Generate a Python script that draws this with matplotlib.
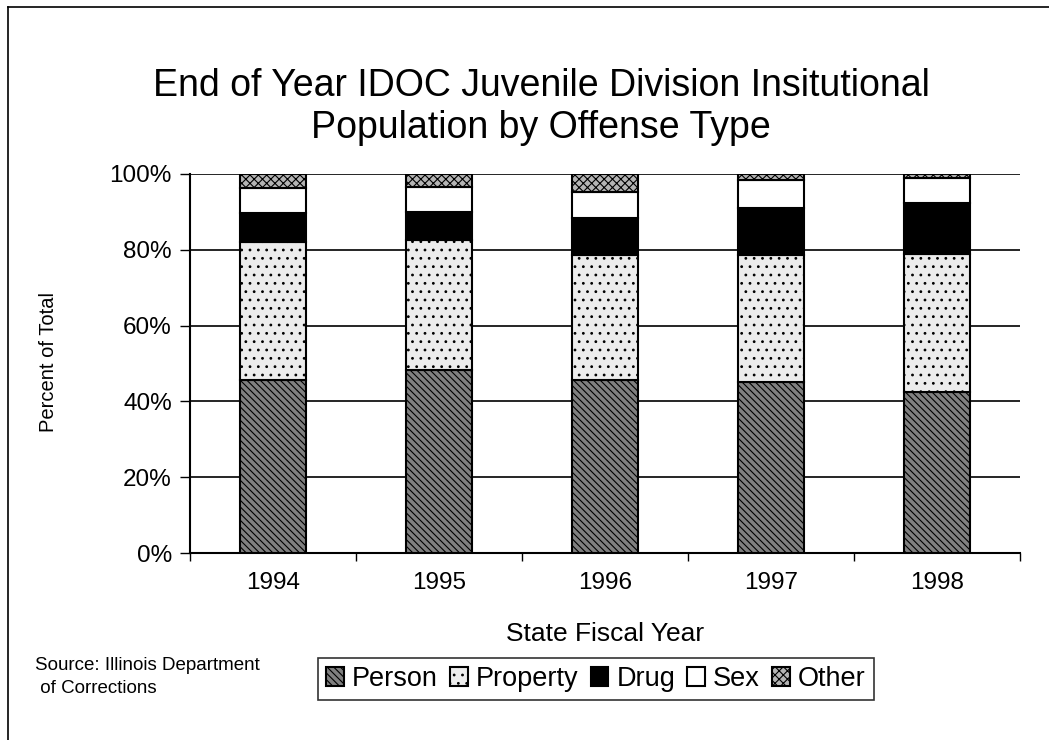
import numpy as np
import matplotlib
matplotlib.use('Agg')
import matplotlib.pyplot as plt
from matplotlib.lines import Line2D

plt.rcParams['font.family'] = ['Liberation Sans', 'DejaVu Sans']
plt.rcParams['hatch.linewidth'] = 0.8

years = ['1994', '1995', '1996', '1997', '1998']
offense_types = ['Person', 'Property', 'Drug', 'Sex', 'Other']

# percent of end-of-year population
person = [45.6, 48.3, 45.6, 45.0, 42.4]
property_ = [36.4, 34.2, 32.9, 33.5, 36.6]
drug = [7.7, 7.4, 9.8, 12.5, 13.3]
sex = [6.6, 6.7, 6.9, 7.4, 6.7]
other = [3.7, 3.4, 4.8, 1.6, 1.0]

series = [person, property_, drug, sex, other]
faces = ['#808080', '#ececec', '#000000', '#ffffff', '#b4b4b4']
hatches = ['\\\\\\\\\\', '..', None, None, 'xxxx']

W, H = 1049, 740
fig = plt.figure(figsize=(W / 100, H / 100), dpi=100)
ax = fig.add_axes([190 / W, (H - 553) / H, 830 / W, (553 - 174) / H])

x = np.arange(len(years))
bottom = np.zeros(len(years))
for name, vals, fc, h in zip(offense_types, series, faces, hatches):
    ax.bar(x, vals, width=0.4, bottom=bottom, color=fc, edgecolor='black',
           linewidth=1.5, hatch=h, label=name, zorder=3)
    bottom += np.array(vals)

ax.set_xlim(-0.5, len(years) - 0.5)
ax.set_ylim(0, 100)
ax.set_yticks(np.arange(0, 101, 20))
ax.set_yticklabels([f'{v}%' for v in range(0, 101, 20)])
ax.yaxis.grid(True, color='black', linewidth=1.2, zorder=0)
ax.set_xticks(x)
ax.set_xticklabels(years)
ax.set_xticks(np.arange(-0.5, len(years), 1), minor=True)
ax.tick_params(axis='x', which='major', length=0, pad=14, labelsize=17.5)
ax.tick_params(axis='x', which='minor', length=6, width=1, direction='out')
ax.tick_params(axis='y', length=7, width=1, direction='out', pad=6, labelsize=17.5)
for s in ['top', 'right']:
    ax.spines[s].set_visible(False)
for s in ['left', 'bottom']:
    ax.spines[s].set_linewidth(1.5)

ax.set_xlabel('State Fiscal Year', fontsize=19, labelpad=20)
fig.text(48 / W, 1 - 362 / H, 'Percent of Total', rotation=90, fontsize=14.5,
         ha='center', va='center')

fig.text(541 / W, 1 - 107 / H,
         'End of Year IDOC Juvenile Division Insitutional\nPopulation by Offense Type',
         ha='center', va='center', fontsize=27, linespacing=1.2)

fig.text(35 / W, 1 - 677 / H, 'Source: Illinois Department\n of Corrections',
         ha='left', va='center', fontsize=13.5, linespacing=1.45)

leg = fig.legend(loc='center', bbox_to_anchor=(596 / W, 1 - 679 / H), ncol=5,
                 fontsize=19.5, frameon=True, fancybox=False, handlelength=0.65,
                 handleheight=0.65, handletextpad=0.3, columnspacing=0.45,
                 borderpad=0.3, borderaxespad=0)
leg.get_frame().set_edgecolor('black')
leg.get_frame().set_linewidth(1.2)

# outer chart border (top and left edges visible in the scan)
fig.add_artist(Line2D([8 / W, 8 / W], [0, 1 - 7 / H], color='black', linewidth=1.2))
fig.add_artist(Line2D([8 / W, 1], [1 - 7 / H, 1 - 7 / H], color='black', linewidth=1.2))

fig.savefig('out.png', dpi=100)
